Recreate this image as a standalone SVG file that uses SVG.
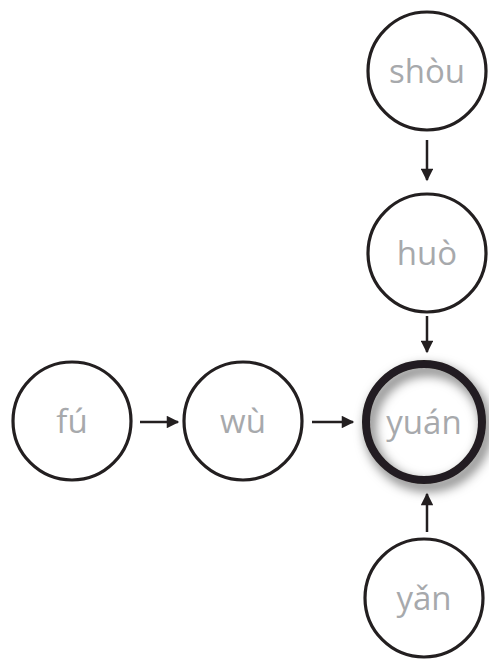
<svg xmlns="http://www.w3.org/2000/svg" width="489" height="660" viewBox="0 0 489 660">
<style>
.node{fill:#fff;stroke:#231f20;stroke-width:3.2}
.main{fill:none;stroke:#231f20;stroke-width:8}
.lbl{font-family:"Open Sans","Noto Sans","DejaVu Sans",sans-serif;font-size:33px;fill:#a7a9ac;text-anchor:middle}
.edge{stroke:#231f20;stroke-width:2.5;fill:none}
</style>
<defs>
<marker id="ah" viewBox="0 0 10 10" refX="9" refY="5" markerWidth="5.5" markerHeight="5" orient="auto" markerUnits="strokeWidth">
<path d="M0,0 L10,5 L0,10 Z" fill="#231f20"/>
</marker>
<filter id="sh" x="-30%" y="-30%" width="170%" height="170%">
<feDropShadow dx="4" dy="6" stdDeviation="6" flood-color="#000" flood-opacity="0.65"/>
</filter>
</defs>
<g id="connectors">
<line class="edge" x1="140" y1="422" x2="178" y2="422" marker-end="url(#ah)"/>
<line class="edge" x1="312" y1="422" x2="353" y2="422" marker-end="url(#ah)"/>
<line class="edge" x1="427" y1="140" x2="427" y2="180" marker-end="url(#ah)"/>
<line class="edge" x1="427" y1="316" x2="427" y2="352" marker-end="url(#ah)"/>
<line class="edge" x1="427" y1="532" x2="427" y2="494" marker-end="url(#ah)"/>
</g>
<g id="shou"><circle class="node" cx="427" cy="71" r="59"/><text class="lbl" x="427" y="83">shòu</text></g>
<g id="huo"><circle class="node" cx="427" cy="253" r="59"/><text class="lbl" x="427" y="265">huò</text></g>
<g id="fu"><circle class="node" cx="72" cy="421" r="59"/><text class="lbl" x="72" y="433">fú</text></g>
<g id="wu"><circle class="node" cx="243" cy="421" r="59"/><text class="lbl" x="243" y="433">wù</text></g>
<g id="yuan"><circle cx="424" cy="422" r="58" fill="#fff"/><circle class="main" cx="424" cy="422" r="58" filter="url(#sh)"/><text class="lbl" x="424" y="434">yuán</text></g>
<g id="yan"><circle class="node" cx="424" cy="598" r="59"/><text class="lbl" x="424" y="610">yǎn</text></g>
</svg>
